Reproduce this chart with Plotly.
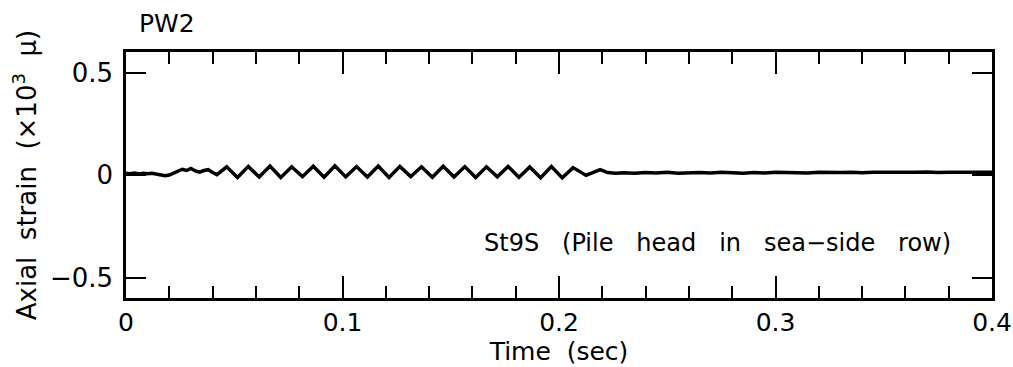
import plotly.graph_objects as go

# ---- data ----
time_s = [
    0.000, 0.002, 0.004, 0.006, 0.008, 0.010, 0.012, 0.014, 0.016, 0.018,
    0.020, 0.022, 0.024, 0.026, 0.028, 0.030, 0.032, 0.034, 0.036, 0.038,
    0.040, 0.042,
    0.0465, 0.0515, 0.0565, 0.0615, 0.0665, 0.0715, 0.0765, 0.0815,
    0.0865, 0.0915, 0.0965, 0.1015, 0.1065, 0.1115, 0.1165, 0.1215,
    0.1265, 0.1315, 0.1365, 0.1415, 0.1465, 0.1515, 0.1565, 0.1615,
    0.1665, 0.1715, 0.1765, 0.1815, 0.1865, 0.1915, 0.1965, 0.2015,
    0.2065, 0.2125, 0.2190, 0.2225,
    0.226, 0.230, 0.235, 0.240, 0.245, 0.250, 0.255, 0.260, 0.265, 0.270,
    0.275, 0.280, 0.285, 0.290, 0.295, 0.300, 0.305, 0.310, 0.315, 0.320,
    0.325, 0.330, 0.335, 0.340, 0.345, 0.350, 0.355, 0.360, 0.365, 0.370,
    0.375, 0.380, 0.385, 0.390, 0.395, 0.400,
]
strain = [
    0.008, 0.006, 0.010, 0.005, 0.008, 0.006, 0.009, 0.004, 0.002, -0.003,
    0.000, 0.008, 0.016, 0.028, 0.022, 0.032, 0.020, 0.014, 0.022, 0.026,
    0.012, 0.002,
    0.040, -0.012, 0.042, -0.010, 0.044, -0.012, 0.040, -0.008,
    0.043, -0.011, 0.045, -0.009, 0.041, -0.010, 0.044, -0.012,
    0.042, -0.008, 0.040, -0.011, 0.043, -0.010, 0.041, -0.012,
    0.040, -0.009, 0.042, -0.011, 0.039, -0.013, 0.041, -0.014,
    0.036, -0.002, 0.026, 0.012,
    0.008, 0.011, 0.009, 0.012, 0.010, 0.013, 0.009, 0.011, 0.012, 0.010,
    0.013, 0.011, 0.009, 0.012, 0.010, 0.013, 0.011, 0.012, 0.010, 0.013,
    0.011, 0.012, 0.014, 0.011, 0.013, 0.012, 0.014, 0.012, 0.013, 0.015,
    0.012, 0.014, 0.013, 0.015, 0.013, 0.014,
]

x_tickvals = [0, 0.1, 0.2, 0.3, 0.4]
x_ticktext = ["0", "0.1", "0.2", "0.3", "0.4"]
y_tickvals = [-0.5, 0, 0.5]
y_ticktext = ["\u22120.5", "0", "0.5"]

FONT = "DejaVu Sans, Liberation Sans, Arial, sans-serif"
NB = "\u00a0"

fig = go.Figure()
fig.add_trace(go.Scatter(
    x=time_s, y=strain, mode="lines",
    line=dict(color="black", width=3.5),
    showlegend=False, hoverinfo="skip",
))

fig.update_layout(
    width=1013, height=367, autosize=False,
    margin=dict(l=126, r=21, t=52, b=69, pad=0),
    paper_bgcolor="white", plot_bgcolor="white",
    font=dict(family=FONT, size=24, color="black"),
    xaxis=dict(
        range=[0, 0.4], tickvals=x_tickvals, ticktext=x_ticktext,
        ticks="inside", ticklen=22, tickwidth=2, tickcolor="black",
        minor=dict(dtick=0.02, ticks="inside", ticklen=12, tickwidth=2, tickcolor="black"),
        showline=True, linewidth=2.5, linecolor="black", mirror="ticks",
        showgrid=False, zeroline=False, automargin=False,
        tickfont=dict(size=25),
        title=dict(text="Time" + NB * 2 + "(sec)", font=dict(size=25), standoff=2),
    ),
    yaxis=dict(
        range=[-0.6, 0.6], tickvals=y_tickvals, ticktext=y_ticktext,
        ticks="inside", ticklen=20, tickwidth=2, tickcolor="black",
        showline=True, linewidth=2.5, linecolor="black", mirror="ticks",
        showgrid=False, zeroline=False, automargin=False,
        tickfont=dict(size=26), ticklabelstandoff=5,
        title=dict(text="Axial" + NB * 2 + "strain" + NB * 2 + "(\u00d710<sup>3</sup>" + NB * 2 + "\u03bc)",
                   font=dict(size=26), standoff=6),
    ),
    annotations=[
        dict(text="PW2", xref="paper", yref="paper", x=(137 - 126) / 866, y=1.0,
             xanchor="left", yanchor="bottom", yshift=12, showarrow=False,
             font=dict(size=25)),
        dict(text="St9S" + NB * 3 + "(Pile" + NB * 3 + "head" + NB * 3 + "in" + NB * 3
             + "sea\u2212side" + NB * 3 + "row)",
             xref="paper", yref="paper", x=(953 - 126) / 866, y=(298 - 243) / 246,
             xanchor="right", yanchor="middle", showarrow=False,
             font=dict(size=24)),
    ],
)

fig.write_html("out.html")
